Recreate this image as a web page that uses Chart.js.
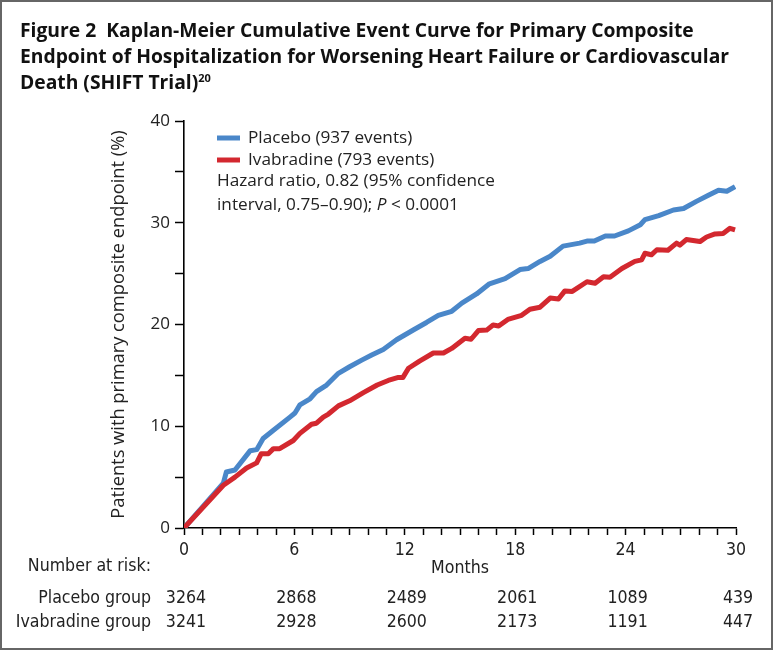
<!DOCTYPE html>
<html><head><meta charset="utf-8">
<script src="https://cdn.jsdelivr.net/npm/chart.js@4.4.1/dist/chart.umd.min.js"></script>
<style>
html,body{margin:0;padding:0;background:#fff;}
#wrap{position:relative;width:773px;height:650px;overflow:hidden;background:#fff;}
#frame{position:absolute;left:0;top:0;width:773px;height:650px;box-sizing:border-box;border:2px solid #666;pointer-events:none;}
#title{position:absolute;left:20px;top:17px;font-family:"Open Sans",sans-serif;font-weight:700;font-size:19.3px;line-height:26px;color:#111;white-space:nowrap;}
#title sup{font-size:11px;line-height:0;vertical-align:7px;}
canvas{position:absolute;left:0;top:0;}
</style></head>
<body>
<div id="wrap">
<canvas id="c" width="773" height="650"></canvas>
<div id="title">Figure 2&nbsp; Kaplan-Meier Cumulative Event Curve for Primary Composite<br>Endpoint of Hospitalization for Worsening Heart Failure or Cardiovascular<br>Death (SHIFT Trial)<sup>20</sup></div>
<div id="frame"></div>
</div>
<script>
// ---- data ----
const placeboMonths = [0,2.14,2.3,2.77,3.6,3.95,4.3,4.86,5.76,6.03,6.3,6.85,7.2,7.75,8.39,9.0,9.66,10.2,10.83,11.55,12.46,13.18,13.82,14.55,15.1,15.9,16.6,17.45,18.26,18.7,19.35,19.9,20.6,21.5,21.9,22.3,22.9,23.4,24.15,24.8,25.05,25.8,26.6,27.15,27.85,28.5,29.05,29.5,29.95];
const placeboPct    = [0,4.4,5.5,5.7,7.6,7.7,8.8,9.6,10.9,11.3,12.1,12.7,13.4,14.05,15.2,15.85,16.5,17.0,17.55,18.5,19.46,20.2,20.9,21.3,22.1,23.0,24.0,24.5,25.4,25.5,26.2,26.7,27.7,28.0,28.2,28.2,28.7,28.7,29.2,29.8,30.3,30.7,31.25,31.4,32.1,32.7,33.2,33.1,33.55];
const ivabradineMonths = [0,2.14,2.77,3.4,3.95,4.2,4.58,4.86,5.2,5.94,6.3,6.93,7.2,7.57,7.85,8.39,9.0,9.75,10.5,11.1,11.65,11.9,12.2,12.8,13.55,14.1,14.55,15.27,15.6,16.0,16.45,16.8,17.1,17.6,18.35,18.8,19.35,19.9,20.35,20.7,21.1,21.9,22.34,22.8,23.15,23.8,24.5,24.87,25.05,25.4,25.7,26.3,26.77,26.95,27.3,28.04,28.4,28.86,29.3,29.67,29.95];
const ivabradinePct    = [0,4.2,5.0,5.9,6.4,7.3,7.3,7.8,7.8,8.6,9.3,10.2,10.3,10.9,11.2,12.0,12.5,13.3,14.05,14.5,14.8,14.8,15.7,16.4,17.2,17.2,17.65,18.65,18.55,19.4,19.45,19.95,19.85,20.5,20.9,21.5,21.7,22.6,22.5,23.3,23.25,24.2,24.05,24.7,24.65,25.5,26.2,26.35,27.0,26.85,27.35,27.3,28.0,27.8,28.35,28.15,28.6,28.9,28.95,29.45,29.3];
const seriesLabels = ['Placebo (937 events)','Ivabradine (793 events)'];
const riskMonths = [0,6,12,18,24,30];
const riskGroups = ['Placebo group','Ivabradine group'];
const riskPlacebo = [3264,2868,2489,2061,1089,439];
const riskIvabradine = [3241,2928,2600,2173,1191,447];
const hazardText1 = 'Hazard ratio, 0.82 (95% confidence';
const hazardText2a = 'interval, 0.75\u20130.90); ';
const hazardText2b = 'P';
const hazardText2c = ' < 0.0001';
const yTitle = 'Patients with primary composite endpoint (%)';
const xTitle = 'Months';
const riskHeader = 'Number at risk:';

const BLUE = '#4a87c9', RED = '#d3282f';
const SANS = '"Open Sans", "Liberation Sans", sans-serif';
const NARROW = '"Liberation Sans Narrow", "DejaVu Sans Condensed", sans-serif';
const LEG = 17.2;
const NSZ = 17.6;

const annot = {
  id: 'annot',
  afterDraw(chart) {
    const {ctx, chartArea: a, scales: {x}} = chart;
    ctx.save();
    ctx.textBaseline = 'middle';
    ctx.fillStyle = '#222';
    ctx.font = LEG + 'px ' + SANS;
    [0, 1].forEach((i, k) => {
      const ds = chart.data.datasets[i];
      const y = a.top + 17 + k * 22;
      ctx.strokeStyle = ds.borderColor; ctx.lineWidth = 5; ctx.lineCap = 'butt';
      ctx.beginPath(); ctx.moveTo(a.left + 33, y); ctx.lineTo(a.left + 56, y); ctx.stroke();
      ctx.fillText(ds.label, a.left + 64, y);
    });
    ctx.fillText(hazardText1, a.left + 33, a.top + 60);
    let tx = a.left + 33; const ty = a.top + 84;
    ctx.fillText(hazardText2a, tx, ty); tx += ctx.measureText(hazardText2a).width;
    ctx.font = 'italic ' + LEG + 'px ' + SANS;
    ctx.fillText(hazardText2b, tx, ty); tx += ctx.measureText(hazardText2b).width;
    ctx.font = LEG + 'px ' + SANS;
    ctx.fillText(hazardText2c, tx, ty);

    // risk table
    ctx.font = NSZ + 'px ' + NARROW;
    ctx.textAlign = 'right';
    ctx.fillText(riskHeader, 151, a.bottom + 38);
    ctx.fillText(riskGroups[0], 151, a.bottom + 70);
    ctx.fillText(riskGroups[1], 151, a.bottom + 94);
    ctx.textAlign = 'center';
    riskMonths.forEach((m, i) => {
      const px = x.getPixelForValue(m) + 2;
      ctx.fillText(String(riskPlacebo[i]), px, a.bottom + 70);
      ctx.fillText(String(riskIvabradine[i]), px, a.bottom + 94);
    });
    ctx.restore();
  }
};

function build() {
  new Chart(document.getElementById('c'), {
    type: 'line',
    data: {
      datasets: [
        {label: seriesLabels[0], data: placeboMonths.map((m, i) => ({x: m, y: placeboPct[i]})),
         borderColor: BLUE, backgroundColor: BLUE, borderWidth: 5, pointRadius: 0, tension: 0, fill: false, order: 1, borderJoinStyle: 'round'},
        {label: seriesLabels[1], data: ivabradineMonths.map((m, i) => ({x: m, y: ivabradinePct[i]})),
         borderColor: RED, backgroundColor: RED, borderWidth: 5, pointRadius: 0, tension: 0, fill: false, order: 0, borderJoinStyle: 'round'}
      ]
    },
    options: {
      responsive: false, animation: false, events: [],
      layout: {padding: {left: 0, top: 121, right: 37, bottom: 0}},
      plugins: {legend: {display: false}, tooltip: {enabled: false}, title: {display: false}},
      scales: {
        x: {
          type: 'linear', min: 0, max: 30,
          afterFit(s) { s.height = 122; },
          ticks: {stepSize: 1, autoSkip: false, maxRotation: 0, includeBounds: true,
                  callback: v => (v % 6 === 0 ? String(v) : ''),
                  font: {family: NARROW, size: NSZ}, color: '#222', padding: 5},
          grid: {drawOnChartArea: false, tickLength: 7, tickColor: '#000', tickWidth: 1.5},
          border: {color: '#000', width: 1.6},
          title: {display: true, text: xTitle, color: '#222', font: {family: NARROW, size: NSZ}, padding: {top: 0, bottom: 71}}
        },
        y: {
          min: 0, max: 40,
          afterFit(s) { s.width = 184; },
          ticks: {stepSize: 5, autoSkip: false, callback: v => (v % 10 === 0 ? String(v) : ''),
                  font: {family: SANS, size: 17}, color: '#222', padding: 5},
          grid: {drawOnChartArea: false, tickLength: 9, tickColor: '#000', tickWidth: 1.5},
          border: {color: '#000', width: 1.6},
          title: {display: true, text: yTitle, color: '#222', font: {family: SANS, size: 18.3}, padding: {top: 108, bottom: 0}}
        }
      }
    },
    plugins: [annot]
  });
}
const fl = [document.fonts.load('16px "Open Sans"'), document.fonts.load('italic 16px "Open Sans"'),
            document.fonts.load('bold 16px "Open Sans"'), document.fonts.load('17px "Liberation Sans Narrow"')];
Promise.all(fl).then(build, build);
</script>
</body></html>
